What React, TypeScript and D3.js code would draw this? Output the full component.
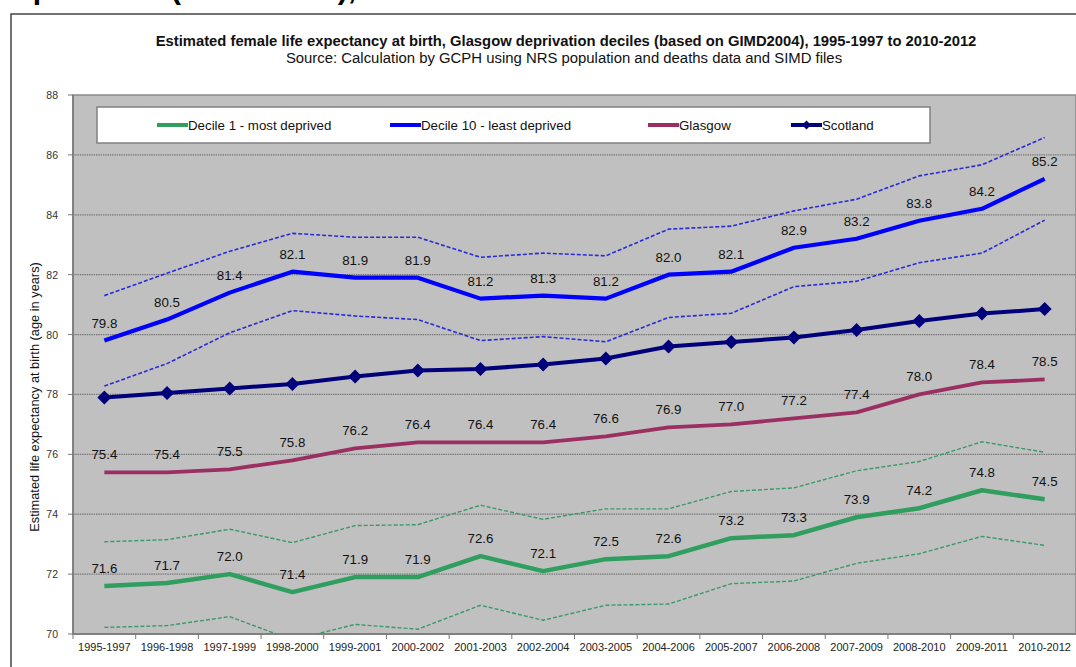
import React from "react";
import * as d3 from "d3";

const periods = [
  "1995-1997", "1996-1998", "1997-1999", "1998-2000", "1999-2001", "2000-2002",
  "2001-2003", "2002-2004", "2003-2005", "2004-2006", "2005-2007", "2006-2008",
  "2007-2009", "2008-2010", "2009-2011", "2010-2012",
];

const decile1 = [71.6, 71.7, 72.0, 71.4, 71.9, 71.9, 72.6, 72.1, 72.5, 72.6, 73.2, 73.3, 73.9, 74.2, 74.8, 74.5];
const decile1Upper = [73.08, 73.15, 73.5, 73.05, 73.62, 73.65, 74.3, 73.83, 74.18, 74.18, 74.76, 74.88, 75.45, 75.76, 76.42, 76.07];
const decile1Lower = [70.22, 70.28, 70.58, 69.8, 70.32, 70.16, 70.96, 70.46, 70.96, 71.0, 71.68, 71.77, 72.36, 72.68, 73.26, 72.96];

const decile10 = [79.8, 80.5, 81.4, 82.1, 81.9, 81.9, 81.2, 81.3, 81.2, 82.0, 82.1, 82.9, 83.2, 83.8, 84.2, 85.2];
const decile10Upper = [81.3, 82.05, 82.78, 83.38, 83.25, 83.25, 82.58, 82.72, 82.63, 83.52, 83.62, 84.13, 84.52, 85.3, 85.67, 86.58];
const decile10Lower = [78.28, 79.03, 80.06, 80.8, 80.62, 80.5, 79.8, 79.93, 79.76, 80.57, 80.71, 81.6, 81.78, 82.4, 82.72, 83.82];

const glasgow = [75.4, 75.4, 75.5, 75.8, 76.2, 76.4, 76.4, 76.4, 76.6, 76.9, 77.0, 77.2, 77.4, 78.0, 78.4, 78.5];
const scotland = [77.9, 78.05, 78.2, 78.35, 78.6, 78.8, 78.85, 79.0, 79.2, 79.6, 79.75, 79.9, 80.15, 80.45, 80.7, 80.85];

const yTicks = [70, 72, 74, 76, 78, 80, 82, 84, 86, 88];

const W = 1076;
const H = 667;
const left = 73;
const right = 1076;
const top = 95;
const bottom = 634;

const FONT = "Arial, 'Liberation Sans', Helvetica, sans-serif";

export default function App() {
  const x = d3.scaleBand<string>().domain(periods).range([left, right]);
  const y = d3.scaleLinear().domain([70, 88]).range([bottom, top]);
  const cx = (i: number) => (x(periods[i]) as number) + x.bandwidth() / 2;
  const line = d3
    .line<number>()
    .x((_, i) => cx(i))
    .y((d) => y(d));

  const green = "#2f9e5f";
  const blue = "#0000ff";
  const plum = "#9b2f62";
  const navy = "#00007a";

  const labels = (vals: number[]) =>
    vals.map((v, i) => (
      <text
        key={i}
        x={cx(i)}
        y={y(v) - 13}
        textAnchor="middle"
        fontSize={13.3}
        fill="#111"
        fontFamily={FONT}
      >
        {v.toFixed(1)}
      </text>
    ));

  const diamond = (px: number, py: number, s: number) =>
    `M${px},${py - s}L${px + s},${py}L${px},${py + s}L${px - s},${py}Z`;

  const legendItems = [
    { label: "Decile 1 - most deprived", color: green, x0: 157, w: 4 },
    { label: "Decile 10 - least deprived", color: blue, x0: 390, w: 4 },
    { label: "Glasgow", color: plum, x0: 648, w: 4 },
    { label: "Scotland", color: navy, x0: 791, w: 4, marker: true },
  ];

  return (
    <div style={{ position: "fixed", left: 0, top: 0 }}>
      <svg width={W} height={H} style={{ display: "block", background: "#fff" }}>
        <defs>
          <clipPath id="plotclip">
            <rect x={left} y={top} width={right - left} height={bottom - top} />
          </clipPath>
        </defs>
        {/* heading cut off at top */}
        <text x={11} y={-1} fontSize={30} fontWeight="bold" fontFamily={FONT} fill="#000">
          Up to 2012 (GCPH data),
        </text>
        {/* outer frame */}
        <rect x={11} y={14} width={W + 20} height={H + 20} fill="#fff" stroke="#444" strokeWidth={1.5} />

        {/* titles */}
        <text x={566} y={46} textAnchor="middle" fontSize={14.8} fontWeight="bold" fontFamily={FONT} fill="#111">
          Estimated female life expectancy at birth, Glasgow deprivation deciles (based on GIMD2004), 1995-1997 to 2010-2012
        </text>
        <text x={564} y={63} textAnchor="middle" fontSize={14.9} fontFamily={FONT} fill="#111">
          Source: Calculation by GCPH using NRS population and deaths data and SIMD files
        </text>

        {/* plot area */}
        <rect x={left} y={top} width={right - left} height={bottom - top} fill="#c0c0c0" stroke="#8a8a8a" strokeWidth={1.5} />
        {yTicks.map((t) => (
          <g key={t}>
            {t > 70 && t < 88 && (
              <line x1={left} x2={right} y1={y(t)} y2={y(t)} stroke="#7a7a7a" strokeWidth={1.3} strokeDasharray="1.5,0.8" />
            )}
            <line x1={left - 5} x2={left} y1={y(t)} y2={y(t)} stroke="#777" strokeWidth={1} />
            <text x={58} y={y(t) + 4} textAnchor="end" fontSize={10.5} fill="#333" fontFamily={FONT}>
              {t}
            </text>
          </g>
        ))}
        {/* axes */}
        <line x1={left} x2={left} y1={top} y2={bottom} stroke="#777" strokeWidth={1.5} />
        <line x1={left} x2={right} y1={bottom} y2={bottom} stroke="#777" strokeWidth={1.5} />
        {periods.map((p, i) => (
          <g key={p}>
            <line
              x1={x(p) as number}
              x2={x(p) as number}
              y1={bottom}
              y2={bottom + 5}
              stroke="#777"
              strokeWidth={1}
            />
            <text x={cx(i)} y={651} textAnchor="middle" fontSize={11} fill="#222" fontFamily={FONT}>
              {p}
            </text>
          </g>
        ))}

        <text
          transform={`translate(39,397) rotate(-90)`}
          textAnchor="middle"
          fontSize={12.8}
          fill="#111"
          fontFamily={FONT}
        >
          Estimated life expectancy at birth (age in years)
        </text>

        <g clipPath="url(#plotclip)">
          {/* confidence intervals */}
          <path d={line(decile10Upper) || ""} fill="none" stroke="#2a2ad8" strokeWidth={1.6} strokeDasharray="4,2" />
          <path d={line(decile10Lower) || ""} fill="none" stroke="#2a2ad8" strokeWidth={1.6} strokeDasharray="4,2" />
          <path d={line(decile1Upper) || ""} fill="none" stroke="#3a9a66" strokeWidth={1.4} strokeDasharray="4,2" />
          <path d={line(decile1Lower) || ""} fill="none" stroke="#3a9a66" strokeWidth={1.4} strokeDasharray="4,2" />

          {/* main lines */}
          <path d={line(glasgow) || ""} fill="none" stroke={plum} strokeWidth={3.8} strokeLinejoin="round" />
          <path d={line(decile1) || ""} fill="none" stroke={green} strokeWidth={4.5} strokeLinejoin="round" />
          <path d={line(decile10) || ""} fill="none" stroke={blue} strokeWidth={4.2} strokeLinejoin="round" />
          <path d={line(scotland) || ""} fill="none" stroke={navy} strokeWidth={4} strokeLinejoin="round" />
          {scotland.map((v, i) => (
            <path key={i} d={diamond(cx(i), y(v), 7)} fill={navy} />
          ))}
        </g>

        {labels(decile10)}
        {labels(glasgow)}
        {labels(decile1)}

        {/* legend */}
        <rect x={97} y={107} width={833} height={36} fill="#fff" stroke="#808080" strokeWidth={1.5} />
        {legendItems.map((it) => (
          <g key={it.label}>
            <line x1={it.x0} x2={it.x0 + 31} y1={125} y2={125} stroke={it.color} strokeWidth={it.w} />
            {it.marker && <path d={diamond(it.x0 + 15.5, 125, 4.5)} fill={it.color} />}
            <text x={it.x0 + 31} y={129.5} fontSize={13.3} fill="#111" fontFamily={FONT}>
              {it.label}
            </text>
          </g>
        ))}
      </svg>
    </div>
  );
}
